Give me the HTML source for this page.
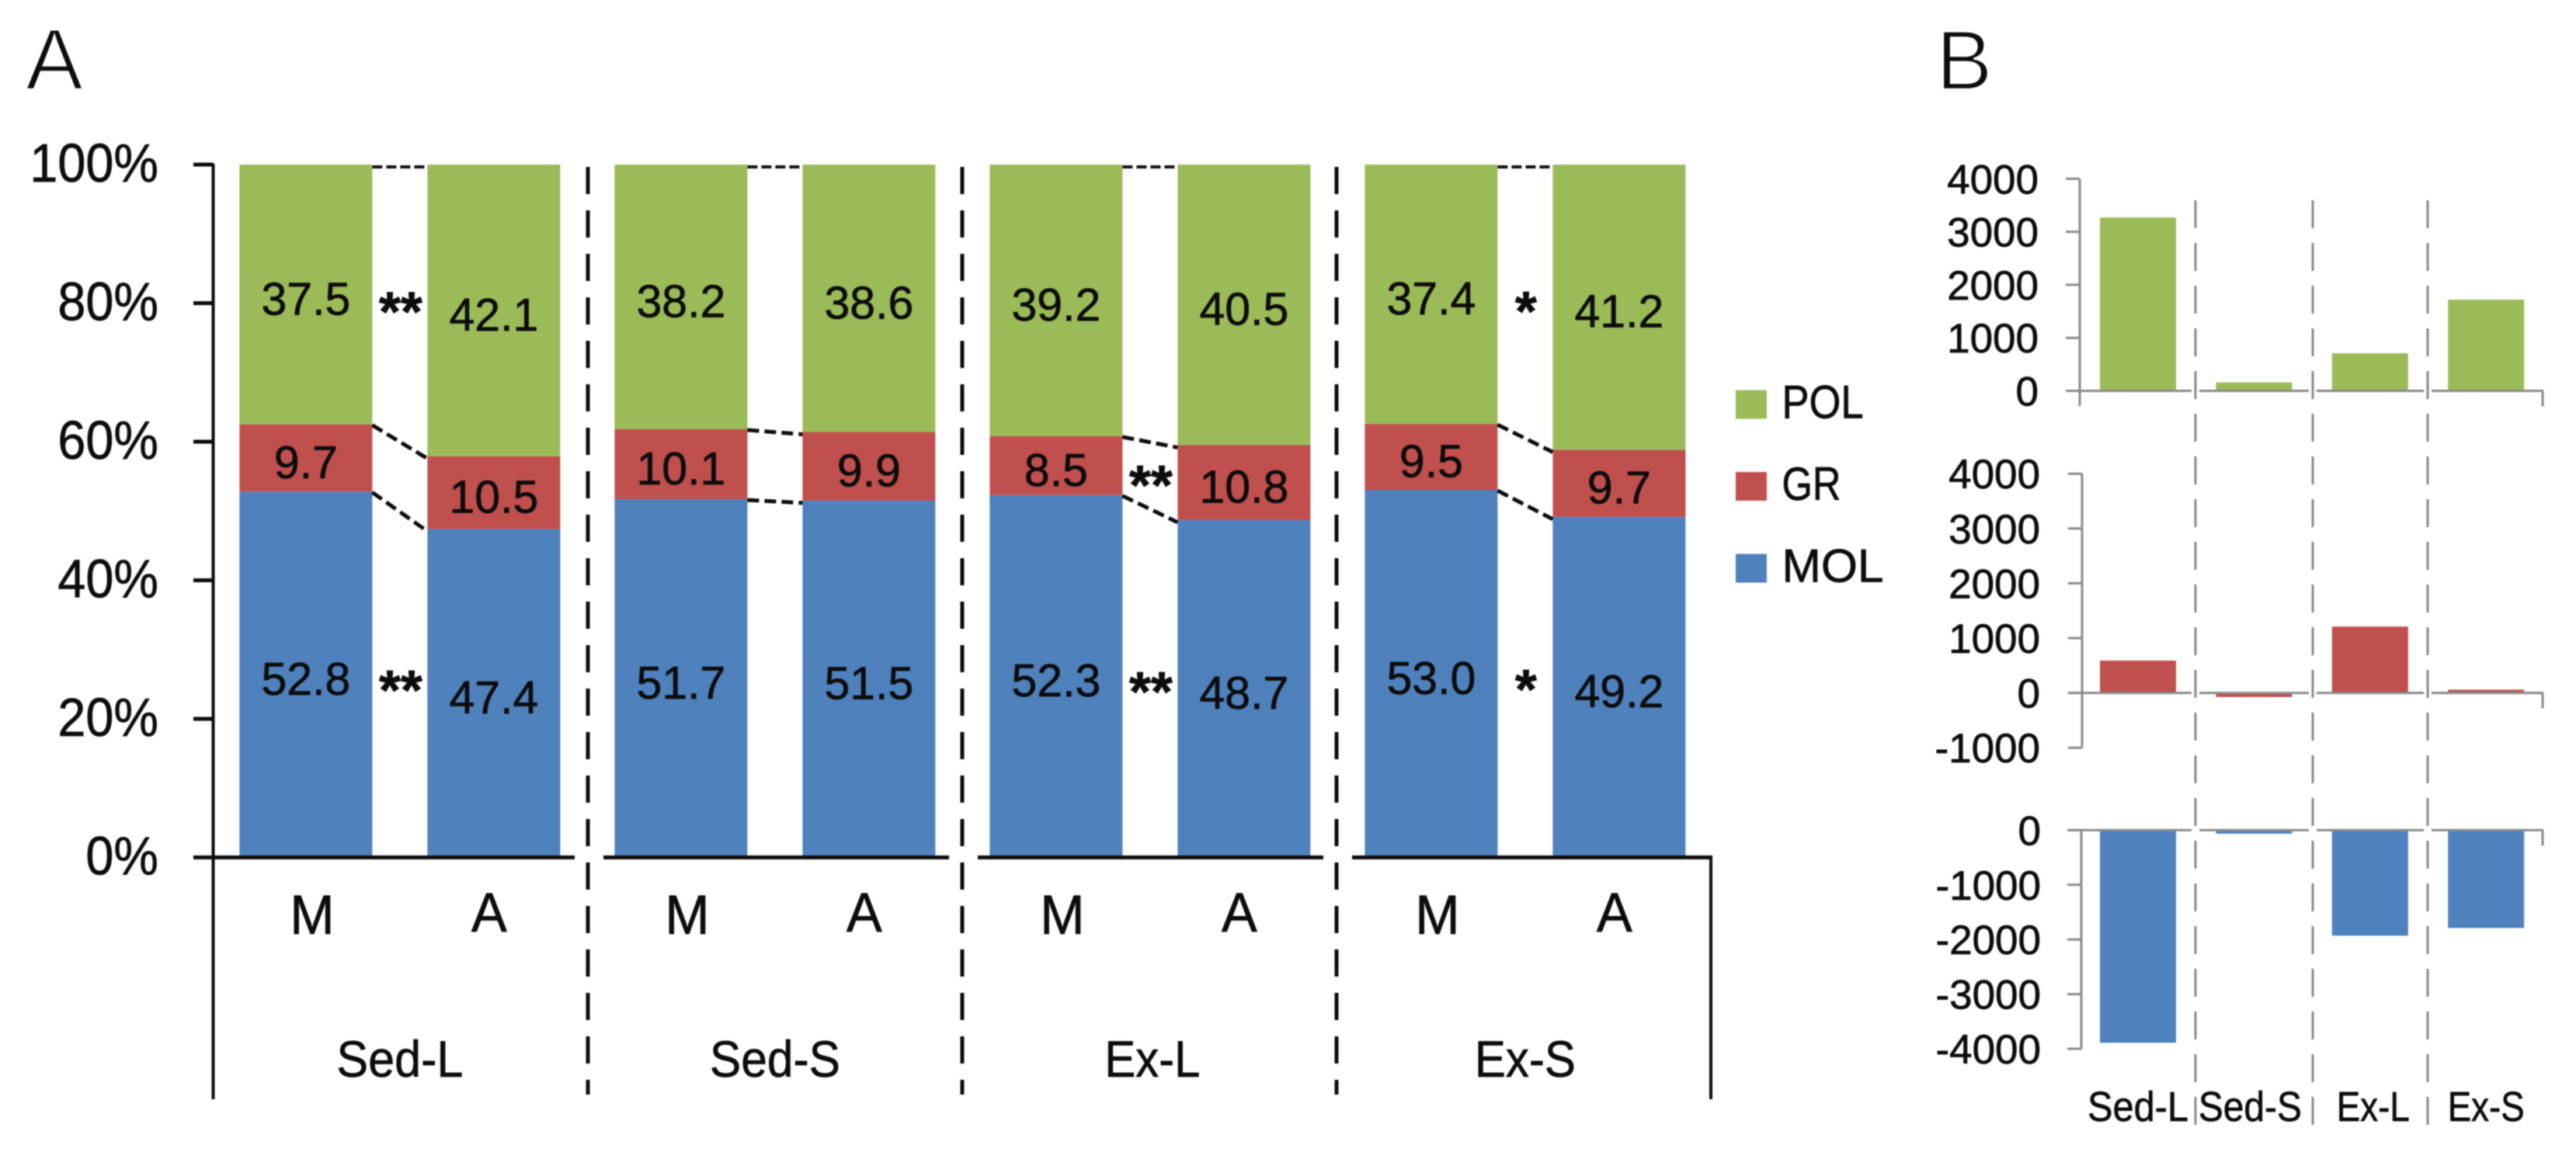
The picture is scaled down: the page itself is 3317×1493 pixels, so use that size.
<!DOCTYPE html>
<html lang="en">
<head>
<meta charset="utf-8">
<title>Stacked layer percentages and changes by group</title>
<style>
html,body{margin:0;padding:0;background:#fff;width:3317px;height:1493px;overflow:hidden}
svg{display:block;filter:blur(0.7px)}
text{font-family:"Liberation Sans",sans-serif;fill:#0c0c0c;stroke:#0c0c0c;stroke-width:0.7px}
</style>
</head>
<body>
<svg id="figure" xmlns="http://www.w3.org/2000/svg" width="3317" height="1493" viewBox="0 0 3317 1493">
<rect x="0" y="0" width="3317" height="1493" fill="#fff"/>
<text x="33" y="115" font-size="111" style="stroke:#fff;stroke-width:2.5px">A</text>
<text x="2493" y="115" font-size="109" style="stroke:#fff;stroke-width:2.5px">B</text>
</svg>
<script>
// ---- Panel A data ----
const groupNames = ['Sed-L', 'Sed-S', 'Ex-L', 'Ex-S'];
const barNames = ['M', 'A'];
const molValues = [52.8, 47.4, 51.7, 51.5, 52.3, 48.7, 53.0, 49.2];
const grValues = [9.7, 10.5, 10.1, 9.9, 8.5, 10.8, 9.5, 9.7];
const polValues = [37.5, 42.1, 38.2, 38.6, 39.2, 40.5, 37.4, 41.2];
const percentTicks = [0, 20, 40, 60, 80, 100];
const sigMol = ['**', '', '**', '*'];
const sigGr = ['', '', '**', ''];
const sigPol = ['**', '', '', '*'];
const legendNames = ['POL', 'GR', 'MOL'];

// ---- Panel B data ----
const polChange = [3270, 160, 710, 1720];
const grChange = [590, -75, 1210, 60];
const molChange = [-3890, -65, -1930, -1790];
const polTicks = [0, 1000, 2000, 3000, 4000];
const grTicks = [-1000, 0, 1000, 2000, 3000, 4000];
const molTicks = [-4000, -3000, -2000, -1000, 0];

const GREEN = '#9BBB59', RED = '#C0504D', BLUE = '#4F81BD', GREY = '#8a8a8a', INK = '#0c0c0c';
const svg = document.getElementById('figure');
const NS = 'http://www.w3.org/2000/svg';

function mk(tag, attrs, txt) {
  const el = document.createElementNS(NS, tag);
  for (const k in attrs) el.setAttribute(k, attrs[k]);
  if (txt !== undefined) el.textContent = txt;
  svg.appendChild(el);
  return el;
}
function squeeze(t, factor) {
  t.setAttribute('textLength', t.getComputedTextLength() * factor);
  t.setAttribute('lengthAdjust', 'spacingAndGlyphs');
}

// ---- Panel A axis functions ----
const yA = v => 1104.5 - v * 8.925;
const groupStart = g => 308.4 + g * 483;
const barLeft = i => groupStart(Math.floor(i / 2)) + (i % 2) * 242;
const BAR_W = 171;
const sepX = k => 757 + 482 * k;
const groupCenter = g => groupStart(g) + 206.5;
// each column is a 100% stack: shares are normalised by the column total
const total = i => molValues[i] + grValues[i] + polValues[i];
const pct = (i, v) => v / total(i) * 100;
const molTop = i => pct(i, molValues[i]);
const grTop = i => pct(i, molValues[i] + grValues[i]);

function drawStackSeg(i, base, value, color, key) {
  const share = pct(i, value);
  const r = mk('rect', {x: barLeft(i), y: yA(base + share), width: BAR_W, height: yA(base) - yA(base + share), fill: color});
  
  
  const t = mk('text', {x: barLeft(i) + BAR_W / 2, y: yA(base + share / 2) + 26, 'font-size': 59, 'text-anchor': 'middle'}, value.toFixed(1));
  
  
}

molValues.forEach((m, i) => {
  drawStackSeg(i, 0, m, BLUE, 'mol');
  drawStackSeg(i, molTop(i), grValues[i], RED, 'gr');
  drawStackSeg(i, grTop(i), polValues[i], GREEN, 'pol');
});

// connectors between M and A bars in each group
groupNames.forEach((name, g) => {
  const a = g * 2, b = a + 1;
  const levels = [molTop(a), grTop(a)];
  const levelsB = [molTop(b), grTop(b)];
  levels.forEach((lv, n) => {
    const l = mk('line', {x1: barLeft(a) + BAR_W, y1: yA(lv) + 1, x2: barLeft(b), y2: yA(levelsB[n]) + 3, stroke: INK, 'stroke-width': 5, 'stroke-dasharray': '15 7'});
    
    
  });
  const top = mk('line', {x1: barLeft(a) + BAR_W, y1: yA(100) + 3, x2: barLeft(b), y2: yA(100) + 3, stroke: INK, 'stroke-width': 4, 'stroke-dasharray': '13 5'});
  
  
});

// significance stars
function drawSig(list, levelFn, key, extra) {
  list.forEach((s, g) => {
    if (!s) return;
    const t = mk('text', {x: groupCenter(g) + 1, y: levelFn(g * 2) + extra, 'font-size': 72, 'font-weight': 'bold', 'text-anchor': 'middle'}, s);
    
    
  });
}
drawSig(sigMol, i => yA(molTop(i) / 2), 'mol', 45);
drawSig(sigGr, i => yA((molTop(i) + grTop(i)) / 2), 'gr', 50);
drawSig(sigPol, i => yA((grTop(i) + 100) / 2), 'pol', 47);

// y axis and ticks
const axisY = mk('line', {x1: 274.5, y1: 211, x2: 274.5, y2: 1416, stroke: INK, 'stroke-width': 4});


percentTicks.forEach(v => {
  const tk = mk('line', {x1: 249, y1: yA(v), x2: 275, y2: yA(v), stroke: INK, 'stroke-width': 5});
  
  
  const t = mk('text', {x: 204, y: yA(v) + 22, 'font-size': 70, 'text-anchor': 'end'}, v + '%');
  
  
  squeeze(t, 0.925);
});

// x axis pieces, group separators, labels
groupNames.forEach((name, g) => {
  const x0 = g === 0 ? 249 : sepX(g - 1) + 20;
  const x1 = g === groupNames.length - 1 ? 2205 : sepX(g) - 17;
  const ax = mk('line', {x1: x0, y1: yA(0), x2: x1, y2: yA(0), stroke: INK, 'stroke-width': 5});
  
  
  if (g < groupNames.length - 1) {
    const sep = mk('line', {x1: sepX(g), y1: 215, x2: sepX(g), y2: 1410, stroke: INK, 'stroke-width': 5, 'stroke-dasharray': '35 21'});
    
    
  }
  barNames.forEach((b, n) => {
    const i = g * 2 + n;
    const dx = n === 0 ? 8 : -6;
    const t = mk('text', {x: barLeft(i) + BAR_W / 2 + dx, y: n === 0 ? 1203 : 1200, 'font-size': 71, 'text-anchor': 'middle'}, b);
    
    
    squeeze(t, 0.97);
  });
  const lenAdj = [163, 168, 123, 130][g];
  const gl = mk('text', {x: groupCenter(g) + (g === 2 ? 3 : 0), y: 1387, 'font-size': 66, 'text-anchor': 'middle', textLength: lenAdj, lengthAdjust: 'spacingAndGlyphs'}, name);
  
  
});
const axisR = mk('line', {x1: 2203, y1: 1102, x2: 2203, y2: 1416, stroke: INK, 'stroke-width': 4});



// legend
const legendColors = [GREEN, RED, BLUE];
const legendWidths = [105, 76, 131];
legendNames.forEach((n, i) => {
  const top = 502.5 + i * 105.5;
  const sw = mk('rect', {x: 2235, y: top, width: 40, height: 37, fill: legendColors[i]});
  
  
  const t = mk('text', {x: 2294.5, y: top + 36, 'font-size': 60, textLength: legendWidths[i], lengthAdjust: 'spacingAndGlyphs'}, n);
  
  
});

// ---- Panel B ----
const xB = i => 2704 + i * 149.4;
const BAR_B = 98;
const sepB = k => [2827, 2978, 3126][k];

function drawMini(key, values, ticks, color, frame) {
  const y = v => frame.zero - v * frame.unit;
  const top = y(ticks[ticks.length - 1]), bottom = y(ticks[0]);
  const ya = mk('line', {x1: frame.axisX, y1: top, x2: frame.axisX, y2: Math.max(bottom, frame.tail), stroke: GREY, 'stroke-width': 3});
  
  
  ticks.forEach(v => {
    const tk = mk('line', {x1: frame.axisX - 18, y1: y(v), x2: frame.axisX, y2: y(v), stroke: GREY, 'stroke-width': 3});
    
    
    const t = mk('text', {x: frame.labelX, y: y(v) + 19, 'font-size': 53, 'text-anchor': 'end'}, String(v));
    
    
  });
  values.forEach((v, i) => {
    const r = mk('rect', {x: xB(i), y: Math.min(y(v), y(0)), width: BAR_B, height: Math.abs(y(v) - y(0)), fill: color});
    
    
  });
  const xs = [frame.axisX - 18, sepB(0) + 5, sepB(1) + 5, sepB(2) + 5];
  const xe = [sepB(0) - 5, sepB(1) - 5, sepB(2) - 5, 3275];
  xs.forEach((x, n) => {
    const l = mk('line', {x1: x, y1: y(0), x2: xe[n], y2: y(0), stroke: GREY, 'stroke-width': 3});
    
    
  });
  const rt = mk('line', {x1: 3274, y1: y(0), x2: 3274, y2: y(0) + 20, stroke: GREY, 'stroke-width': 3});
  
  
}

drawMini('pol', polChange, polTicks, GREEN, {zero: 503.5, unit: 0.0683, axisX: 2678, labelX: 2625, tail: 523});
drawMini('gr', grChange, grTicks, RED, {zero: 892.6, unit: 0.0706, axisX: 2681, labelX: 2627, tail: 962});
drawMini('mol', molChange, molTicks, BLUE, {zero: 1069.4, unit: 0.0704, axisX: 2680, labelX: 2628, tail: 1351});

[0, 1, 2].forEach(k => {
  const s = mk('line', {x1: sepB(k), y1: 258, x2: sepB(k), y2: 1449, stroke: GREY, 'stroke-width': 3, 'stroke-dasharray': '36 19'});
  
  
});

const bLabelWidths = [130, 133, 94, 99];
const bLabelCenter = i => xB(i) + 49 + [0, -5, 4, 0][i];
groupNames.forEach((n, i) => {
  const t = mk('text', {x: bLabelCenter(i), y: 1444, 'font-size': 54, 'text-anchor': 'middle', textLength: bLabelWidths[i], lengthAdjust: 'spacingAndGlyphs'}, n);
  
  
});
</script>
</body>
</html>
